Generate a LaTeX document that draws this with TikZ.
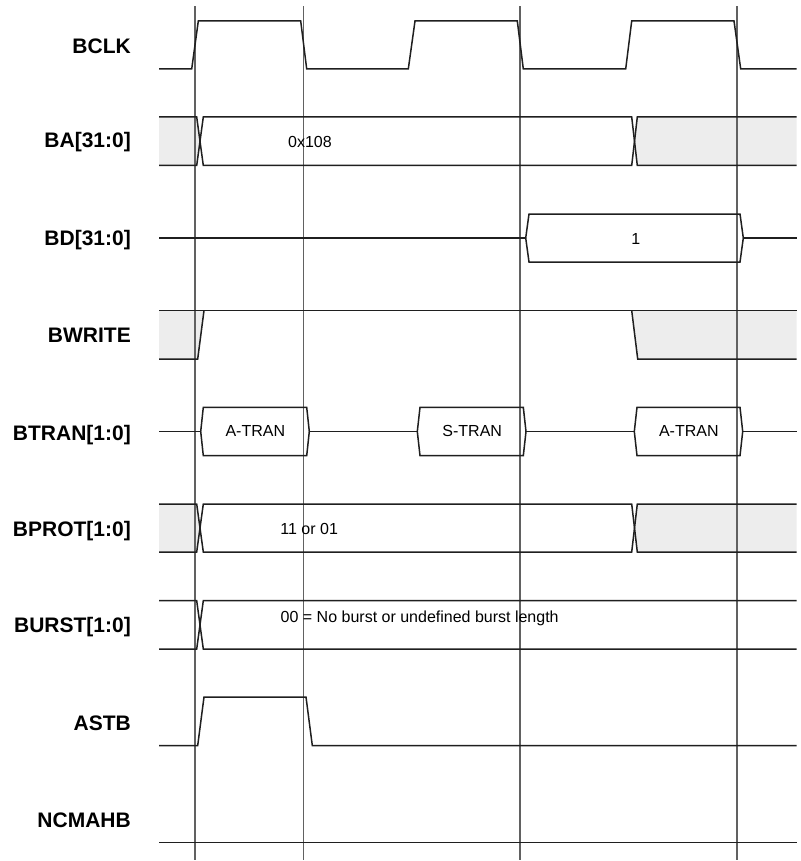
\documentclass[tikz,border=0pt]{standalone}
\usepackage{fontspec}
\setmainfont{Liberation Sans}
\begin{document}
\begin{tikzpicture}[x=1pt,y=-1pt,
  sig/.style={line width=1.5pt, draw=black!88, line join=miter},
  gridline/.style={line width=1.2pt, draw=black!62},
  unk/.style={fill=black!7, draw=none},
  lbl/.style={font=\fontsize{21}{24}\selectfont\bfseries, anchor=base east, inner sep=0pt},
  val/.style={font=\fontsize{16}{19}\selectfont, anchor=base, inner sep=0pt},
]
\useasboundingbox (0,0) rectangle (800,861);

% ---------- unknown (gray) regions ----------
% BA
\path[unk] (159,117) -- (196.7,117) -- (200,141.3) -- (196.7,165.5) -- (159,165.5) -- cycle;
\path[unk] (634.5,141.3) -- (637.3,117) -- (796.7,117) -- (796.7,165.5) -- (637.3,165.5) -- cycle;
% BWRITE
\path[unk] (159,310.5) -- (204,310.5) -- (197.7,359) -- (159,359) -- cycle;
\path[unk] (631.7,310.5) -- (796.7,310.5) -- (796.7,359) -- (637.7,359) -- cycle;
% BPROT
\path[unk] (159,504) -- (196.7,504) -- (200,528) -- (196.7,552) -- (159,552) -- cycle;
\path[unk] (634.5,528) -- (637.3,504) -- (796.7,504) -- (796.7,552) -- (637.3,552) -- cycle;

% ---------- grid lines ----------
\foreach \gx in {195,303.5,520,737}
  \draw[gridline] (\gx,6.5) -- (\gx,860);

% ---------- BCLK ----------
\draw[sig] (159,69) -- (191.7,69) -- (198.3,21) -- (300.7,21) -- (306.7,69) -- (408.3,69) -- (415,21) -- (517.3,21) -- (523.3,69) -- (625.7,69) -- (631.7,21) -- (734,21) -- (740.7,69) -- (796.7,69);

% ---------- BA[31:0] ----------
\draw[sig] (159,117) -- (196.7,117) -- (203.3,165.5) -- (631.7,165.5) -- (637.3,117) -- (796.7,117);
\draw[sig] (159,165.5) -- (196.7,165.5) -- (203.3,117) -- (631.7,117) -- (637.3,165.5) -- (796.7,165.5);

% ---------- BD[31:0] ----------
\draw[sig] (159,238) -- (525.7,238);
\draw[sig] (525.7,238) -- (529,214) -- (740,214) -- (743.3,238) -- (740,262) -- (529,262) -- cycle;
\draw[sig] (743.3,238) -- (796.7,238);

% ---------- BWRITE ----------
\draw[sig] (159,310.5) -- (796.7,310.5);
\draw[sig] (159,359) -- (197.7,359) -- (204,310.5);
\draw[sig] (631.7,310.5) -- (637.7,359) -- (796.7,359);

% ---------- BTRAN[1:0] ----------
\draw[sig] (159,431.5) -- (200.7,431.5);
\draw[sig] (200.7,431.5) -- (203.3,407.3) -- (306.7,407.3) -- (309.3,431.5) -- (306.7,455.7) -- (203.3,455.7) -- cycle;
\draw[sig] (309.3,431.5) -- (417.3,431.5);
\draw[sig] (417.3,431.5) -- (420,407.3) -- (523.3,407.3) -- (526,431.5) -- (523.3,455.7) -- (420,455.7) -- cycle;
\draw[sig] (526,431.5) -- (634.3,431.5);
\draw[sig] (634.3,431.5) -- (637,407.3) -- (740,407.3) -- (742.7,431.5) -- (740,455.7) -- (637,455.7) -- cycle;
\draw[sig] (742.7,431.5) -- (796.7,431.5);

% ---------- BPROT[1:0] ----------
\draw[sig] (159,504) -- (196.7,504) -- (203.3,552) -- (631.7,552) -- (637.3,504) -- (796.7,504);
\draw[sig] (159,552) -- (196.7,552) -- (203.3,504) -- (631.7,504) -- (637.3,552) -- (796.7,552);

% ---------- BURST[1:0] ----------
\draw[sig] (159,600.7) -- (196.7,600.7) -- (203.3,649) -- (796.7,649);
\draw[sig] (159,649) -- (196.7,649) -- (203.3,600.7) -- (796.7,600.7);

% ---------- ASTB ----------
\draw[sig] (159,745.5) -- (197.7,745.5) -- (204,697) -- (306,697) -- (312.3,745.5) -- (796.7,745.5);

% ---------- NCMAHB ----------
\draw[sig] (159,842.3) -- (796.7,842.3);

% ---------- values ----------
\node[val] (vba) at (310,147.3) {0x108};
\node[val] (vbd) at (635.7,244.3) {1};
\node[val] (vt1) at (255.3,436.7) {A-TRAN};
\node[val] (vt2) at (472.2,436.7) {S-TRAN};
\node[val] (vt3) at (688.8,436.7) {A-TRAN};
\node[val] (vbp) at (309.2,534) {11 or 01};
\node[val] (vbu) at (419.7,622) {00 = No burst or undefined burst length};

% ---------- labels ----------
\node[lbl] (lclk) at (131,53.3) {BCLK};
\node[lbl] (lba) at (131,147.8) {BA[31:0]};
\node[lbl] (lbd) at (131,245.5) {BD[31:0]};
\node[lbl] (lbw) at (131,342.5) {BWRITE};
\node[lbl] (lbt) at (131,440) {BTRAN[1:0]};
\node[lbl] (lbp) at (131,536) {BPROT[1:0]};
\node[lbl] (lbu) at (131,632.5) {BURST[1:0]};
\node[lbl] (lst) at (131,730) {ASTB};
\node[lbl] (lnc) at (131,827) {NCMAHB};
\end{tikzpicture}
\end{document}
